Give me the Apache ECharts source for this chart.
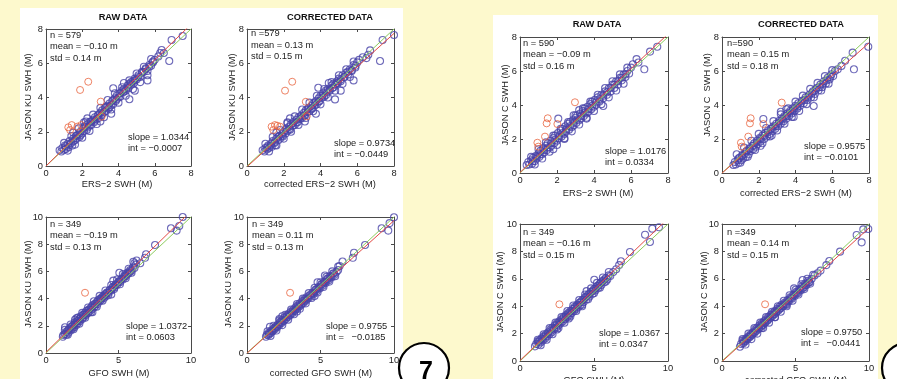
<!DOCTYPE html>
<html>
<head>
<meta charset="utf-8">
<script src="https://cdn.jsdelivr.net/npm/echarts@6/dist/echarts.min.js"></script>
<style>
  html, body { margin: 0; padding: 0; background: #fdf9cd; }
  #chart { width: 897px; height: 379px; }
</style>
</head>
<body>
<div id="chart"></div>
<script>
// ---- data ----
const titles = ["RAW DATA", "CORRECTED DATA", "", "", "RAW DATA", "CORRECTED DATA", "", ""];
const xNames = ["ERS−2 SWH (M)", "corrected ERS−2 SWH (M)", "GFO SWH (M)", "corrected GFO SWH (M)",
  "ERS−2 SWH (M)", "corrected ERS−2 SWH (M)", "GFO SWH (M)", "corrected GFO SWH (M)"];
const yNames = ["JASON KU SWH (M)", "JASON KU SWH (M)", "JASON KU SWH (M)", "JASON KU SWH (M)",
  "JASON C SWH (M)", "JASON C  SWH (M)", "JASON C SWH (M)", "JASON C SWH (M)"];
const nLabels = ["n = 579", "n =579", "n = 349", "n = 349", "n = 590", "n=590", "n = 349", "n =349"];
const meanLabels = ["mean = −0.10 m", "mean = 0.13 m", "mean = −0.19 m", "mean = 0.11 m",
  "mean = −0.09 m", "mean = 0.15 m", "mean = −0.16 m", "mean = 0.14 m"];
const stdLabels = ["std = 0.14 m", "std = 0.15 m", "std = 0.13 m", "std = 0.13 m",
  "std = 0.16 m", "std = 0.18 m", "std = 0.15 m", "std = 0.15 m"];
const slopes = [1.0344, 0.9734, 1.0372, 0.9755, 1.0176, 0.9575, 1.0367, 0.9750];
const intercepts = [-0.0007, -0.0449, 0.0603, -0.0185, 0.0334, -0.0101, 0.0347, -0.0441];
const intLabels = ["int = −0.0007", "int = −0.0449", "int = 0.0603", "int =   −0.0185",
  "int = 0.0334", "int = −0.0101", "int = 0.0347", "int =   −0.0441"];
const axisMax = [8, 8, 10, 10, 8, 8, 10, 10];
const xStep = [2, 2, 5, 5, 2, 2, 5, 5];
const yStep = 2;

// JASON KU vs ERS-2, raw
const p1Blue = [[0.75,0.92],[0.85,0.85],[0.9,1.05],[1.0,0.95],[1.05,1.2],[1.1,1.0],[1.2,1.3],[1.25,1.1],[1.3,1.45],[1.4,1.35],[1.45,1.2],[1.5,1.6],[1.6,1.5],[1.65,1.75],[1.7,1.6],[1.8,1.85],[1.85,1.7],[1.9,2.0],[2.0,1.9],[2.05,2.2],[2.1,2.05],[2.2,2.3],[2.25,2.1],[2.3,2.45],[2.4,2.35],[2.45,2.6],[2.5,2.4],[2.6,2.7],[2.65,2.55],[2.7,2.85],[2.8,2.75],[2.85,2.95],[2.9,2.8],[3.0,3.1],[3.05,2.95],[3.1,3.25],[3.2,3.15],[3.25,3.4],[3.3,3.2],[3.4,3.5],[3.45,3.35],[3.5,3.65],[3.6,3.55],[3.65,3.8],[3.7,3.6],[3.8,3.95],[3.85,3.8],[3.9,4.1],[4.0,4.0],[4.05,4.25],[4.1,4.05],[4.2,4.4],[4.25,4.3],[4.3,4.5],[4.4,4.4],[4.5,4.7],[4.55,4.55],[4.6,4.8],[4.7,4.75],[4.8,4.95],[4.85,4.85],[4.9,5.1],[5.0,5.05],[5.1,5.3],[5.2,5.2],[5.3,5.45],[5.4,5.5],[5.5,5.65],[5.6,5.55],[5.7,5.9],[5.8,5.85],[5.9,6.05],[6.0,6.2],[6.2,6.4],[6.38,6.77],[6.5,6.6],[6.3,6.6],[6.8,6.13],[6.93,7.36],[7.54,7.59],[4.6,3.9],[3.71,4.54],[2.28,2.78],[1.5,1.95],[2.1,2.55],[3.0,2.6],[3.6,3.05],[4.9,4.4],[5.6,5.0],[4.3,4.85]];
const p1Band = [[1.0,1.35],[1.2,0.9],[1.4,1.75],[1.6,1.25],[1.8,2.2],[2.0,1.65],[2.2,2.6],[2.4,2.05],[2.6,3.0],[2.8,2.45],[3.0,3.4],[3.2,2.85],[3.4,3.85],[3.6,3.3],[3.8,4.25],[4.0,3.7],[4.2,4.6],[4.4,4.1],[4.6,5.0],[4.8,4.5],[5.0,5.4],[5.2,4.9],[5.4,5.8],[5.6,5.3],[5.8,6.25],[1.1,1.15],[1.3,1.25],[1.5,1.45],[1.7,1.8],[1.9,1.8],[2.1,2.3],[2.3,2.25],[2.5,2.6],[2.7,2.65],[2.9,3.0],[3.1,3.05],[3.3,3.45],[3.5,3.45],[3.7,3.85],[3.9,3.9],[4.1,4.25],[4.3,4.35],[4.5,4.6],[4.7,4.9],[4.9,5.0],[5.1,5.2],[5.3,5.5],[5.5,5.7],[5.7,5.8],[5.9,6.1]];
const p1Orange = [[2.33,4.92],[1.88,4.44],[3.02,3.76],[3.07,2.88],[1.42,2.39],[1.23,2.26],[1.73,2.3],[1.94,2.39],[1.33,2.1]];

// JASON KU vs ERS-2, corrected
const p2Blue = [[0.85,0.92],[0.95,0.85],[1.0,1.05],[1.1,0.98],[1.15,1.2],[1.2,1.05],[1.3,1.3],[1.35,1.12],[1.4,1.45],[1.5,1.35],[1.55,1.22],[1.6,1.6],[1.7,1.5],[1.75,1.75],[1.8,1.6],[1.9,1.85],[1.95,1.72],[2.0,2.0],[2.1,1.9],[2.15,2.2],[2.2,2.05],[2.3,2.3],[2.35,2.12],[2.4,2.45],[2.5,2.35],[2.55,2.6],[2.6,2.4],[2.7,2.7],[2.75,2.55],[2.8,2.85],[2.9,2.75],[2.95,2.95],[3.0,2.8],[3.1,3.1],[3.15,2.95],[3.2,3.25],[3.3,3.15],[3.35,3.4],[3.4,3.2],[3.5,3.5],[3.55,3.35],[3.6,3.65],[3.7,3.55],[3.75,3.8],[3.8,3.6],[3.9,3.95],[3.95,3.8],[4.0,4.1],[4.1,4.0],[4.15,4.25],[4.2,4.05],[4.3,4.4],[4.35,4.3],[4.4,4.5],[4.5,4.4],[4.6,4.7],[4.65,4.55],[4.7,4.8],[4.8,4.75],[4.9,4.95],[4.95,4.85],[5.0,5.1],[5.1,5.05],[5.2,5.3],[5.3,5.2],[5.4,5.45],[5.5,5.5],[5.6,5.65],[5.7,5.55],[5.8,5.9],[5.9,5.85],[6.0,6.05],[6.1,6.2],[6.3,6.35],[6.6,6.5],[6.7,6.75],[6.5,6.3],[7.24,6.13],[7.38,7.36],[8.0,7.65],[4.79,3.89],[3.88,4.57],[2.34,2.78],[1.6,1.95],[2.2,2.55],[3.15,2.6],[3.75,3.05],[5.1,4.4],[5.8,5.0],[4.45,4.85]];
const p2Band = [[1.0,1.3],[1.2,0.85],[1.4,1.7],[1.6,1.2],[1.8,2.1],[2.0,1.6],[2.2,2.5],[2.4,2.0],[2.6,2.9],[2.8,2.4],[3.0,3.3],[3.2,2.8],[3.4,3.7],[3.6,3.2],[3.8,4.1],[4.0,3.6],[4.2,4.5],[4.4,4.0],[4.6,4.9],[4.8,4.4],[5.0,5.3],[5.2,4.8],[5.4,5.65],[5.6,5.2],[5.8,6.1],[1.1,1.1],[1.3,1.2],[1.5,1.4],[1.7,1.7],[1.9,1.75],[2.1,2.1],[2.3,2.15],[2.5,2.5],[2.7,2.55],[2.9,2.85],[3.1,2.95],[3.3,3.3],[3.5,3.35],[3.7,3.7],[3.9,3.75],[4.1,4.1],[4.3,4.15],[4.5,4.45],[4.7,4.6],[4.9,4.85],[5.1,4.95],[5.3,5.2],[5.5,5.35],[5.7,5.6],[5.9,5.75]];
const p2Orange = [[2.46,4.92],[2.07,4.4],[3.2,3.75],[3.25,2.9],[1.34,2.3],[1.52,2.39],[1.8,2.3],[1.43,2.1],[1.65,2.35]];

// JASON KU vs GFO, raw
const p3Blue = [[1.16,1.2],[1.2,1.32],[1.31,1.89],[1.3,1.4],[1.4,1.35],[1.5,1.65],[1.55,1.5],[1.6,1.8],[1.7,1.65],[1.75,1.95],[1.8,1.8],[1.9,2.1],[1.95,1.9],[2.0,2.25],[2.1,2.05],[2.15,2.35],[2.2,2.2],[2.3,2.5],[2.35,2.35],[2.4,2.7],[2.5,2.5],[2.55,2.8],[2.6,2.65],[2.7,2.95],[2.75,2.8],[2.8,3.1],[2.9,2.95],[2.95,3.2],[3.0,3.05],[3.1,3.35],[3.15,3.2],[3.2,3.5],[3.3,3.35],[3.35,3.6],[3.4,3.45],[3.5,3.75],[3.55,3.6],[3.6,3.9],[3.7,3.8],[3.75,4.0],[3.8,3.9],[3.9,4.15],[4.0,4.05],[4.05,4.3],[4.1,4.15],[4.2,4.45],[4.3,4.4],[4.4,4.65],[4.5,4.6],[4.6,4.85],[4.7,4.8],[4.8,5.05],[4.9,5.0],[5.0,5.25],[5.1,5.2],[5.2,5.45],[5.3,5.4],[5.4,5.7],[5.5,5.65],[5.6,5.9],[5.7,5.85],[5.8,6.1],[5.9,6.05],[6.0,6.3],[6.1,6.25],[6.2,6.5],[6.02,6.71],[6.25,6.8],[6.5,6.6],[6.83,7.0],[6.9,7.26],[7.52,7.94],[8.62,9.17],[9.01,9.0],[9.19,9.34],[9.43,10.0],[5.06,5.9],[4.64,5.32],[3.2,3.0],[4.5,4.3],[2.2,2.6],[2.0,2.45]];
const p3Band = [[1.3,1.7],[1.5,1.35],[1.7,2.1],[1.9,1.75],[2.1,2.55],[2.3,2.15],[2.5,2.95],[2.7,2.6],[2.9,3.35],[3.1,3.0],[3.3,3.8],[3.5,3.4],[3.7,4.2],[3.9,3.85],[4.1,4.6],[4.3,4.25],[4.5,5.0],[4.7,4.7],[4.9,5.4],[5.1,5.05],[5.3,5.8],[5.5,5.5],[5.7,6.2],[5.9,5.9],[6.1,6.6],[1.4,1.55],[1.6,1.7],[1.8,1.95],[2.0,2.1],[2.2,2.35],[2.4,2.55],[2.6,2.8],[2.8,2.9],[3.0,3.2],[3.2,3.4],[3.4,3.6],[3.6,3.8],[3.8,4.0],[4.0,4.2],[4.2,4.4],[4.4,4.6],[4.6,4.8],[4.8,5.0],[5.0,5.2],[5.2,5.4],[5.4,5.6],[5.6,5.8],[5.8,6.0]];
const p3Orange = [[2.69,4.43]];

// JASON KU vs GFO, corrected
const p4Blue = [[1.29,1.2],[1.35,1.35],[1.56,1.93],[1.45,1.3],[1.5,1.5],[1.6,1.45],[1.65,1.65],[1.75,1.6],[1.8,1.8],[1.9,1.75],[1.95,1.95],[2.05,1.9],[2.1,2.1],[2.2,2.05],[2.25,2.3],[2.35,2.2],[2.4,2.45],[2.5,2.35],[2.55,2.6],[2.65,2.5],[2.7,2.75],[2.8,2.65],[2.85,2.9],[2.95,2.8],[3.0,3.05],[3.1,2.95],[3.15,3.2],[3.25,3.1],[3.3,3.35],[3.4,3.25],[3.45,3.5],[3.55,3.4],[3.6,3.65],[3.7,3.55],[3.75,3.8],[3.85,3.7],[3.9,3.95],[4.0,3.85],[4.05,4.1],[4.15,4.0],[4.25,4.25],[4.35,4.15],[4.45,4.45],[4.55,4.35],[4.65,4.65],[4.75,4.55],[4.85,4.85],[4.95,4.75],[5.05,5.05],[5.15,4.95],[5.25,5.25],[5.35,5.15],[5.45,5.45],[5.55,5.35],[5.65,5.65],[5.75,5.55],[5.85,5.85],[5.95,5.75],[6.1,5.98],[6.2,6.1],[6.5,6.73],[6.3,6.4],[7.2,7.0],[7.28,7.37],[8.03,7.94],[9.16,9.17],[9.61,9.0],[9.7,9.55],[10.0,9.98],[5.3,5.7],[4.8,5.2],[3.4,3.05],[4.6,4.2],[2.4,2.7],[2.2,2.5]];
const p4Band = [[1.4,1.6],[1.6,1.25],[1.8,2.0],[2.0,1.65],[2.2,2.4],[2.4,2.05],[2.6,2.8],[2.8,2.45],[3.0,3.2],[3.2,2.85],[3.4,3.6],[3.6,3.25],[3.8,4.0],[4.0,3.65],[4.2,4.4],[4.4,4.05],[4.6,4.8],[4.8,4.45],[5.0,5.2],[5.2,4.85],[5.4,5.6],[5.6,5.25],[5.8,6.0],[6.0,5.65],[6.2,6.35],[1.5,1.4],[1.7,1.6],[1.9,1.85],[2.1,2.0],[2.3,2.25],[2.5,2.4],[2.7,2.65],[2.9,2.8],[3.1,3.05],[3.3,3.2],[3.5,3.45],[3.7,3.6],[3.9,3.85],[4.1,4.0],[4.3,4.25],[4.5,4.4],[4.7,4.65],[4.9,4.8],[5.1,5.05],[5.3,5.2],[5.5,5.45],[5.7,5.6],[5.9,5.85]];
const p4Orange = [[2.93,4.43]];

// JASON C vs ERS-2, raw
const p5Blue = [[0.36,0.47],[0.45,0.65],[0.5,0.5],[0.6,0.75],[0.65,0.55],[0.7,0.9],[0.8,0.7],[0.85,1.0],[0.9,0.85],[1.0,1.15],[1.05,0.95],[1.1,1.3],[1.2,1.1],[1.25,1.45],[1.3,1.2],[1.4,1.6],[1.45,1.35],[1.5,1.75],[1.6,1.5],[1.65,1.9],[1.7,1.6],[1.8,2.05],[1.85,1.75],[1.9,2.2],[2.0,1.9],[2.07,3.2],[2.05,2.35],[2.1,2.05],[2.2,2.5],[2.25,2.15],[2.3,2.6],[2.4,2.3],[2.45,2.75],[2.5,2.45],[2.6,2.9],[2.65,2.55],[2.7,3.0],[2.8,2.7],[2.85,3.1],[2.9,2.8],[3.0,3.25],[3.05,2.95],[3.1,3.4],[3.2,3.1],[3.25,3.5],[3.3,3.2],[3.4,3.65],[3.45,3.35],[3.5,3.8],[3.6,3.5],[3.65,3.9],[3.7,3.6],[3.8,4.05],[3.85,3.75],[3.9,4.2],[4.0,3.9],[4.05,4.3],[4.1,4.0],[4.2,4.45],[4.3,4.2],[4.4,4.6],[4.5,4.4],[4.6,4.8],[4.7,4.6],[4.8,5.0],[4.9,4.8],[5.0,5.2],[5.1,5.0],[5.2,5.4],[5.3,5.2],[5.4,5.6],[5.5,5.45],[5.6,5.8],[5.7,5.65],[5.8,6.0],[5.9,5.85],[6.0,6.2],[6.1,6.4],[6.3,6.7],[6.4,6.5],[6.72,6.1],[7.03,7.14],[7.42,7.43],[4.5,3.94],[2.9,3.4],[1.8,1.4],[3.6,3.2],[2.4,2.0],[3.2,3.7]];
const p5Band = [[0.6,0.95],[0.8,0.5],[1.0,1.4],[1.2,0.85],[1.4,1.8],[1.6,1.25],[1.8,2.2],[2.0,1.65],[2.2,2.6],[2.4,2.05],[2.6,3.0],[2.8,2.45],[3.0,3.4],[3.2,2.85],[3.4,3.8],[3.6,3.25],[3.8,4.2],[4.0,3.65],[4.2,4.6],[4.4,4.05],[4.6,5.0],[4.8,4.45],[5.0,5.4],[5.2,4.85],[5.4,5.8],[5.6,5.25],[5.8,6.2],[0.7,0.7],[0.9,0.95],[1.1,1.1],[1.3,1.35],[1.5,1.5],[1.7,1.75],[1.9,1.95],[2.1,2.15],[2.3,2.35],[2.5,2.55],[2.7,2.75],[2.9,2.95],[3.1,3.15],[3.3,3.35],[3.5,3.55],[3.7,3.75],[3.9,3.95],[4.1,4.15],[4.3,4.35],[4.5,4.55],[4.7,4.75],[4.9,5.0],[5.1,5.2],[5.3,5.4],[5.5,5.6],[5.7,5.8]];
const p5Orange = [[2.97,4.16],[1.5,3.22],[1.44,2.92],[2.02,2.88],[1.35,2.14],[0.94,1.78],[0.99,1.55]];

// JASON C vs ERS-2, corrected
const p6Blue = [[0.62,0.47],[0.7,0.65],[0.75,0.5],[0.85,0.75],[0.9,0.6],[0.95,0.9],[1.05,0.75],[1.1,1.0],[1.15,0.85],[1.25,1.15],[1.3,0.95],[1.35,1.3],[1.45,1.1],[1.5,1.45],[1.55,1.3],[1.65,1.6],[1.7,1.4],[1.75,1.75],[1.85,1.55],[1.9,1.9],[1.95,1.7],[2.05,2.05],[2.1,1.85],[2.25,3.18],[2.2,2.2],[2.3,2.0],[2.35,2.35],[2.45,2.15],[2.5,2.5],[2.6,2.3],[2.65,2.6],[2.75,2.45],[2.8,2.75],[2.9,2.6],[2.95,2.9],[3.05,2.75],[3.1,3.05],[3.2,2.9],[3.25,3.2],[3.35,3.05],[3.4,3.35],[3.5,3.2],[3.55,3.5],[3.65,3.35],[3.7,3.65],[3.8,3.5],[3.85,3.8],[3.95,3.65],[4.0,3.95],[4.1,3.8],[4.15,4.1],[4.25,3.95],[4.35,4.25],[4.45,4.1],[4.55,4.45],[4.65,4.3],[4.75,4.6],[4.85,4.45],[4.95,4.8],[5.05,4.65],[5.15,5.0],[5.25,4.85],[5.35,5.2],[5.45,5.05],[5.55,5.4],[5.65,5.25],[5.75,5.6],[5.85,5.5],[5.95,5.8],[6.05,5.7],[6.15,6.0],[6.3,6.1],[6.5,6.3],[6.7,6.6],[7.18,6.1],[7.11,7.08],[7.96,7.43],[4.99,3.94],[3.2,3.6],[2.1,1.6],[3.9,3.3],[2.7,2.2],[3.5,3.75]];
const p6Band = [[0.8,1.1],[1.0,0.6],[1.2,1.5],[1.4,0.95],[1.6,1.9],[1.8,1.35],[2.0,2.3],[2.2,1.75],[2.4,2.65],[2.6,2.15],[2.8,3.05],[3.0,2.5],[3.2,3.45],[3.4,2.9],[3.6,3.8],[3.8,3.3],[4.0,4.2],[4.2,3.65],[4.4,4.55],[4.6,4.05],[4.8,4.95],[5.0,4.45],[5.2,5.3],[5.4,4.85],[5.6,5.7],[5.8,5.25],[6.0,6.05],[0.9,0.85],[1.1,1.05],[1.3,1.25],[1.5,1.4],[1.7,1.6],[1.9,1.8],[2.1,2.0],[2.3,2.2],[2.5,2.4],[2.7,2.6],[2.9,2.75],[3.1,2.95],[3.3,3.15],[3.5,3.35],[3.7,3.55],[3.9,3.75],[4.1,3.9],[4.3,4.1],[4.5,4.3],[4.7,4.5],[4.9,4.7],[5.1,4.9],[5.3,5.05],[5.5,5.25],[5.7,5.45],[5.9,5.65]];
const p6Orange = [[3.25,4.14],[1.56,3.22],[1.52,2.92],[2.25,2.88],[1.43,2.14],[1.03,1.78],[1.07,1.55]];

// JASON C vs GFO, raw
const p7Blue = [[1.01,1.07],[1.2,1.42],[1.1,1.25],[1.25,1.2],[1.3,1.5],[1.4,1.35],[1.45,1.65],[1.55,1.5],[1.6,1.8],[1.7,1.65],[1.75,1.95],[1.85,1.8],[1.9,2.1],[2.0,1.95],[2.05,2.3],[2.15,2.1],[2.2,2.45],[2.3,2.3],[2.35,2.6],[2.45,2.45],[2.5,2.75],[2.6,2.6],[2.65,2.9],[2.75,2.75],[2.8,3.05],[2.9,2.9],[2.95,3.2],[3.05,3.05],[3.1,3.35],[3.2,3.2],[3.25,3.5],[3.35,3.35],[3.4,3.65],[3.5,3.5],[3.55,3.8],[3.65,3.65],[3.7,3.95],[3.8,3.8],[3.85,4.1],[3.95,3.95],[4.0,4.25],[4.1,4.1],[4.2,4.45],[4.3,4.3],[4.4,4.65],[4.5,4.5],[4.6,4.85],[4.7,4.7],[4.8,5.05],[4.9,4.9],[5.0,5.25],[5.1,5.15],[5.2,5.45],[5.3,5.35],[5.4,5.65],[5.5,5.55],[5.6,5.85],[5.7,5.75],[5.8,6.05],[5.9,5.95],[6.0,6.25],[6.1,6.2],[6.3,6.5],[6.5,6.7],[5.02,5.93],[6.7,7.0],[6.82,7.28],[7.43,7.96],[8.78,8.69],[8.45,9.22],[8.94,9.66],[9.39,9.76],[4.5,5.1],[3.3,3.1],[2.5,2.3],[4.2,4.0]];
const p7Band = [[1.2,1.55],[1.4,1.15],[1.6,1.95],[1.8,1.55],[2.0,2.4],[2.2,1.95],[2.4,2.8],[2.6,2.4],[2.8,3.2],[3.0,2.8],[3.2,3.65],[3.4,3.25],[3.6,4.05],[3.8,3.65],[4.0,4.45],[4.2,4.1],[4.4,4.85],[4.6,4.5],[4.8,5.3],[5.0,4.95],[5.2,5.7],[5.4,5.35],[5.6,6.1],[5.8,5.8],[6.0,6.5],[1.3,1.4],[1.5,1.6],[1.7,1.8],[1.9,2.0],[2.1,2.2],[2.3,2.4],[2.5,2.65],[2.7,2.85],[2.9,3.05],[3.1,3.25],[3.3,3.45],[3.5,3.65],[3.7,3.85],[3.9,4.05],[4.1,4.3],[4.3,4.5],[4.5,4.7],[4.7,4.9],[4.9,5.1],[5.1,5.3],[5.3,5.5],[5.5,5.75],[5.7,5.95]];
const p7Orange = [[2.66,4.14]];

// JASON C vs GFO, corrected
const p8Blue = [[1.22,1.04],[1.4,1.5],[1.3,1.25],[1.45,1.3],[1.5,1.5],[1.6,1.45],[1.65,1.65],[1.75,1.6],[1.8,1.8],[1.9,1.75],[1.95,1.95],[2.05,1.9],[2.1,2.1],[2.2,2.05],[2.25,2.3],[2.35,2.2],[2.4,2.45],[2.5,2.35],[2.55,2.6],[2.65,2.5],[2.7,2.75],[2.8,2.65],[2.85,2.9],[2.95,2.8],[3.0,3.05],[3.1,2.95],[3.15,3.2],[3.25,3.1],[3.3,3.35],[3.4,3.25],[3.45,3.5],[3.55,3.4],[3.6,3.65],[3.7,3.55],[3.75,3.8],[3.85,3.7],[3.9,3.95],[4.0,3.85],[4.05,4.1],[4.15,4.0],[4.25,4.25],[4.35,4.15],[4.45,4.45],[4.55,4.35],[4.65,4.65],[4.75,4.55],[4.85,4.85],[4.95,4.75],[5.05,5.05],[5.15,4.95],[5.25,5.25],[5.35,5.15],[5.45,5.45],[5.49,5.91],[5.55,5.35],[5.65,5.65],[5.75,5.55],[5.85,5.85],[5.95,5.75],[6.1,6.0],[6.3,6.25],[6.5,6.4],[6.7,6.6],[7.1,7.0],[7.3,7.3],[8.03,7.98],[9.16,9.2],[9.5,8.66],[9.61,9.61],[9.95,9.64],[4.9,5.3],[3.6,3.2],[2.7,2.4],[4.4,4.1]];
const p8Band = [[1.4,1.6],[1.6,1.2],[1.8,2.0],[2.0,1.6],[2.2,2.4],[2.4,2.0],[2.6,2.8],[2.8,2.4],[3.0,3.2],[3.2,2.8],[3.4,3.6],[3.6,3.2],[3.8,4.0],[4.0,3.6],[4.2,4.4],[4.4,4.0],[4.6,4.8],[4.8,4.4],[5.0,5.2],[5.2,4.85],[5.4,5.6],[5.6,5.25],[5.8,6.0],[6.0,5.65],[6.2,6.3],[1.5,1.4],[1.7,1.6],[1.9,1.8],[2.1,2.0],[2.3,2.2],[2.5,2.4],[2.7,2.6],[2.9,2.8],[3.1,3.0],[3.3,3.2],[3.5,3.4],[3.7,3.6],[3.9,3.8],[4.1,4.0],[4.3,4.2],[4.5,4.4],[4.7,4.6],[4.9,4.8],[5.1,5.0],[5.3,5.2],[5.5,5.35],[5.7,5.55],[5.9,5.75]];
const p8Orange = [[2.93,4.14]];

const blueSets = [p1Blue.concat(p1Band), p2Blue.concat(p2Band), p3Blue.concat(p3Band), p4Blue.concat(p4Band),
  p5Blue.concat(p5Band), p6Blue.concat(p6Band), p7Blue.concat(p7Band), p8Blue.concat(p8Band)];
const orangeSets = [p1Orange, p2Orange, p3Orange, p4Orange, p5Orange, p6Orange, p7Orange, p8Orange];

// ---- layout (pixels) ----
// plot box: left, top, width, height
const boxes = [
  [46, 29, 145, 137], [247, 29, 147, 137],
  [46, 217, 145, 136], [247, 217, 147, 136],
  [520, 37, 148, 136], [722, 37, 147, 136],
  [520, 224, 148, 137], [722, 224, 147, 137]
];
const titlePos = [[123, 17], [330, 17], null, null, [597, 24], [801, 24], null, null];
const xNamePos = [[117, 184], [320, 184], [119, 373], [321, 373], [598, 193], [796, 193], [594, 380], [796, 380]];
const yNamePos = [[28, 97], [232, 97], [28, 284], [228, 284], [505, 105], [707, 95], [500, 292], [704, 292]];
const statPos = [[50, 35], [251, 33.5], [50, 224.3], [252, 224.3], [523, 43.3], [727, 43.3], [523, 232.3], [727, 232.3]];
const fitPos = [[128, 137.7], [334, 143.3], [126, 326.7], [326, 326], [605, 151.7], [804, 146], [599, 333.3], [801, 332.3]];

const FONT = "Liberation Sans, Arial, sans-serif";
const FS = 9.3;
const AX = "#4a4a4a";

const chart = echarts.init(document.getElementById("chart"));
const grid = [], xAxis = [], yAxis = [], series = [];
const graphic = [
  // white panels behind the plots
  { type: "rect", z: -10, shape: { x: 20, y: 8, width: 383, height: 371 }, style: { fill: "#fff" } },
  { type: "rect", z: -10, shape: { x: 493, y: 15, width: 385, height: 364 }, style: { fill: "#fff" } },
  // page number circles
  { type: "circle", z: 20, shape: { cx: 424, cy: 368, r: 25 }, style: { fill: "#fff", stroke: "#000", lineWidth: 2.2 } },
  { type: "text", z: 21, x: 426, y: 372, style: { text: "7", fill: "#000", font: "bold 25px 'Liberation Sans Narrow', 'Liberation Sans', sans-serif", textAlign: "center", textVerticalAlign: "middle" } },
  { type: "circle", z: 20, shape: { cx: 907, cy: 368, r: 25 }, style: { fill: "#fff", stroke: "#000", lineWidth: 2.2 } }
];

function txt(x, y, s, opts) {
  return Object.assign({
    type: "text", z: 15, x: x, y: y,
    style: { text: s, fill: "#222", font: FS + "px " + FONT, textAlign: "left", textVerticalAlign: "middle" }
  }, opts || {});
}

boxes.forEach((b, i) => {
  grid.push({ left: b[0], top: b[1], width: b[2], height: b[3], show: false });
  const base = {
    type: "value", min: 0, max: axisMax[i], gridIndex: i,
    splitLine: { show: false },
    axisLine: { show: true, onZero: false, lineStyle: { color: AX, width: 1 } },
    axisTick: { show: true, inside: true, length: 3, lineStyle: { color: AX } }
  };
  const lab = { show: true, fontSize: FS, color: "#222", fontFamily: FONT, margin: 3 };
  xAxis.push(Object.assign({}, base, { interval: xStep[i], position: "bottom", axisLabel: lab }));
  xAxis.push(Object.assign({}, base, { interval: xStep[i], position: "top", axisLabel: { show: false } }));
  yAxis.push(Object.assign({}, base, { interval: yStep, position: "left", axisLabel: lab }));
  yAxis.push(Object.assign({}, base, { interval: yStep, position: "right", axisLabel: { show: false } }));

  const ax = { xAxisIndex: 2 * i, yAxisIndex: 2 * i, silent: true, animation: false };
  series.push(Object.assign({
    type: "scatter", data: blueSets[i], symbol: "circle", symbolSize: 7, z: 2,
    itemStyle: { color: "rgba(0,0,0,0)", borderColor: "#4844a8", borderWidth: 1.1 }
  }, ax));
  series.push(Object.assign({
    type: "scatter", data: orangeSets[i], symbol: "circle", symbolSize: 7, z: 3,
    itemStyle: { color: "rgba(0,0,0,0)", borderColor: "#e8643e", borderWidth: 1 }
  }, ax));
  const m = axisMax[i];
  // 1:1 line
  series.push(Object.assign({
    type: "line", data: [[0, 0], [m, m]], showSymbol: false, clip: true, z: 4,
    lineStyle: { color: "#8ccc5c", width: 1 }
  }, ax));
  // fitted line
  series.push(Object.assign({
    type: "line", data: [[0, intercepts[i]], [m, slopes[i] * m + intercepts[i]]], showSymbol: false, clip: true, z: 5,
    lineStyle: { color: "#e24a44", width: 1 }
  }, ax));

  // texts
  if (titlePos[i]) {
    graphic.push(txt(titlePos[i][0], titlePos[i][1], titles[i], {
      style: { text: titles[i], fill: "#111", font: "bold " + FS + "px " + FONT, textAlign: "center", textVerticalAlign: "middle" }
    }));
  }
  graphic.push(txt(xNamePos[i][0], xNamePos[i][1], xNames[i], {
    style: { text: xNames[i], fill: "#222", font: FS + "px " + FONT, textAlign: "center", textVerticalAlign: "middle" }
  }));
  graphic.push(txt(yNamePos[i][0], yNamePos[i][1], yNames[i], {
    rotation: Math.PI / 2,
    style: { text: yNames[i], fill: "#222", font: FS + "px " + FONT, textAlign: "center", textVerticalAlign: "middle" }
  }));
  const sp = statPos[i];
  graphic.push(txt(sp[0], sp[1], nLabels[i]));
  graphic.push(txt(sp[0], sp[1] + 11.6, meanLabels[i]));
  graphic.push(txt(sp[0], sp[1] + 23.2, stdLabels[i]));
  const fp = fitPos[i];
  graphic.push(txt(fp[0], fp[1], "slope = " + slopes[i].toFixed(4)));
  graphic.push(txt(fp[0], fp[1] + 11, intLabels[i]));
});

chart.setOption({
  backgroundColor: "#fdf9cd",
  animation: false,
  grid: grid,
  xAxis: xAxis,
  yAxis: yAxis,
  series: series,
  graphic: graphic
});
</script>
</body>
</html>
